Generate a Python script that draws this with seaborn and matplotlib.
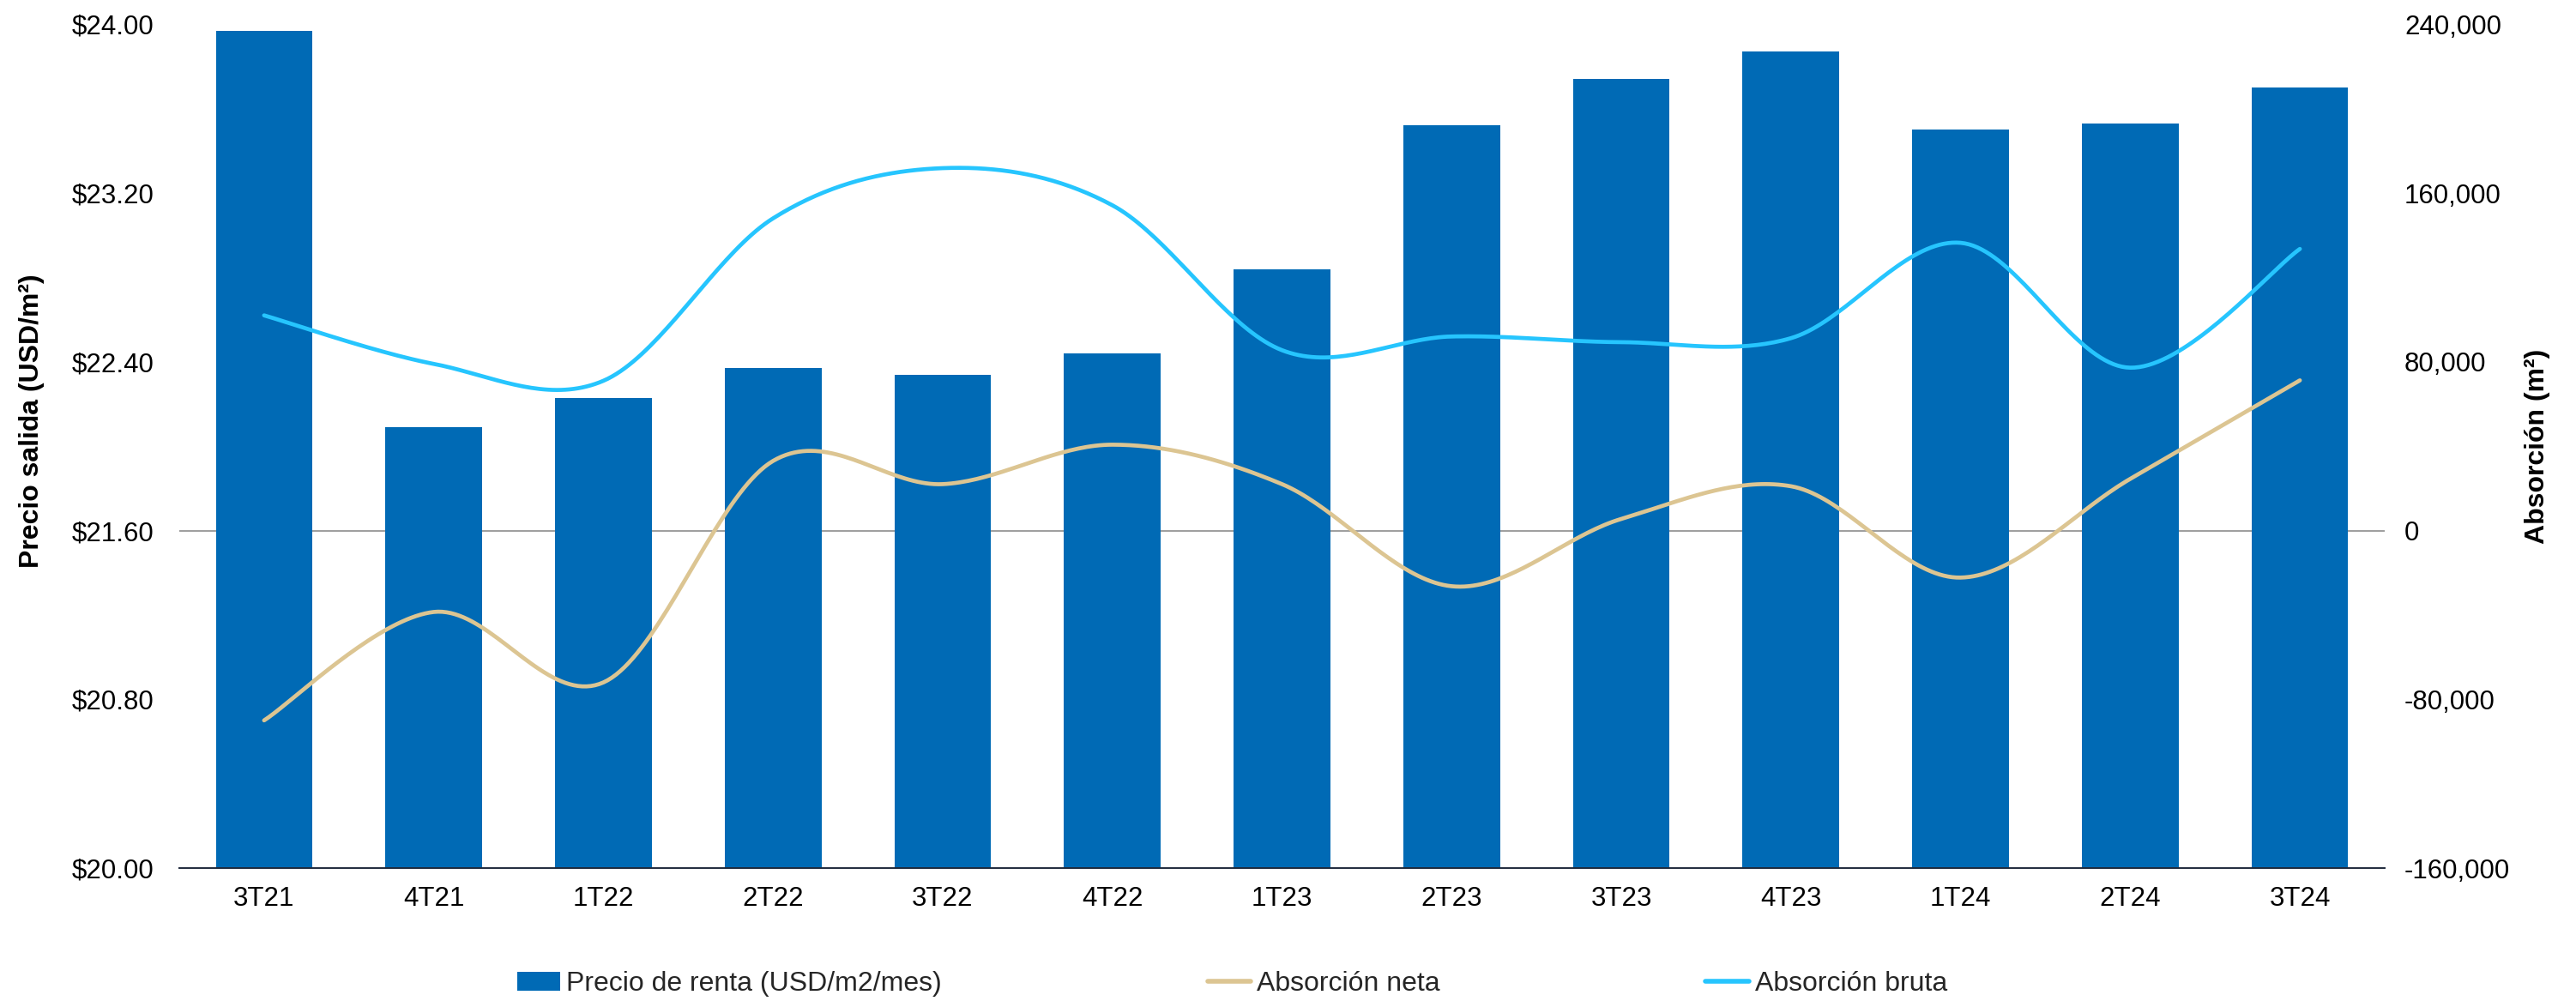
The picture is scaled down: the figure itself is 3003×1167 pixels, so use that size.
import numpy as np
import pandas as pd
import matplotlib
matplotlib.use("Agg")
import matplotlib.pyplot as plt
from matplotlib.patches import Patch
from matplotlib.lines import Line2D
from matplotlib.ticker import FuncFormatter, FixedLocator
import seaborn as sns

# ---------------- data ----------------
trimestres = ['3T21', '4T21', '1T22', '2T22', '3T22', '4T22', '1T23',
              '2T23', '3T23', '4T23', '1T24', '2T24', '3T24']
precio_renta = [23.97, 22.09, 22.23, 22.37, 22.34, 22.44, 22.84,
                23.52, 23.74, 23.87, 23.50, 23.53, 23.70]
absorcion_neta = [-90000, -38600, -72000, 33000, 22000, 40700, 22000,
                  -26400, 5500, 21000, -22300, 24500, 71200]
absorcion_bruta = [102000, 79000, 71000, 148000, 171800, 154200, 85500,
                   92000, 89300, 91200, 136400, 77200, 133500]

left_ticks = [20.0, 20.8, 21.6, 22.4, 23.2, 24.0]
right_ticks = [-160000, -80000, 0, 80000, 160000, 240000]

label_bar = 'Precio de renta (USD/m2/mes)'
label_neta = 'Absorción neta'
label_bruta = 'Absorción bruta'

# ---------------- style ----------------
BAR_C = '#006AB5'
NETA_C = '#DCC592'
BRUTA_C = '#26C5FE'
TXT = '#000000'

sns.set_theme(style='white')
plt.rcParams['font.family'] = ['Liberation Sans', 'DejaVu Sans']

W, H = 3003, 1167
fig = plt.figure(figsize=(W / 100, H / 100), dpi=100)
x0, x1, ytop, ybot = 209, 2780, 28.3, 1012
ax = fig.add_axes([x0 / W, 1 - ybot / H, (x1 - x0) / W, (ybot - ytop) / H])

df = pd.DataFrame({'trimestre': trimestres, 'precio': precio_renta})
sns.barplot(data=df, x='trimestre', y='precio', color=BAR_C, saturation=1,
            width=0.57, ax=ax, zorder=2, linewidth=0)
ax.set_ylim(20, 24)
ax.set_xlim(-0.5, len(trimestres) - 0.5)
ax.axhline(21.6, color='#A0A0A0', lw=1.5, zorder=0)

ax.yaxis.set_major_locator(FixedLocator(left_ticks))
ax.yaxis.set_major_formatter(FuncFormatter(lambda v, p: f'${v:,.2f}'))
ax.set_xlabel('')
ax.set_ylabel('')
ax.tick_params(axis='y', length=0, pad=21, labelsize=22.5, labelcolor=TXT)
ax.tick_params(axis='x', length=0, pad=15, labelsize=22.5, labelcolor=TXT)
for s in ['top', 'left', 'right']:
    ax.spines[s].set_visible(False)
ax.spines['bottom'].set_color('#1F2A3C')
ax.spines['bottom'].set_linewidth(1.4)
ax.grid(False)

ax2 = ax.twinx()
ax2.set_ylim(-160000, 240000)
ax2.yaxis.set_major_locator(FixedLocator(right_ticks))
ax2.yaxis.set_major_formatter(FuncFormatter(lambda v, p: f'{v:,.0f}'))
ax2.tick_params(axis='y', length=0, pad=16.5, labelsize=22.5, labelcolor=TXT)
for s in ax2.spines.values():
    s.set_visible(False)
ax2.grid(False)


def smooth(xv, yv, n=40):
    """Excel-like smoothed line (Catmull-Rom Bezier) through the points."""
    xv = np.asarray(xv, float)
    yv = np.asarray(yv, float)
    P = np.column_stack([xv, yv])
    out = []
    m = len(P)
    for i in range(m - 1):
        p0 = P[i - 1] if i > 0 else P[i]
        p1 = P[i]
        p2 = P[i + 1]
        p3 = P[i + 2] if i + 2 < m else P[i + 1]
        c1 = p1 + (p2 - p0) / 6
        c2 = p2 - (p3 - p1) / 6
        t = np.linspace(0, 1, n, endpoint=(i == m - 2))[:, None]
        seg = ((1 - t) ** 3) * p1 + 3 * ((1 - t) ** 2) * t * c1 + \
              3 * (1 - t) * t ** 2 * c2 + t ** 3 * p2
        out.append(seg)
    out = np.vstack(out)
    return out[:, 0], out[:, 1]


xpos = np.arange(len(trimestres))
for vals, col in [(absorcion_neta, NETA_C), (absorcion_bruta, BRUTA_C)]:
    sx, sy = smooth(xpos, vals)
    sns.lineplot(x=sx, y=sy, ax=ax2, color=col, lw=3.4, sort=False,
                 estimator=None, zorder=3)
ax2.set_xlim(-0.5, len(trimestres) - 0.5)
ax2.set_ylabel('')

fig.text(37 / W, 1 - 491 / H, 'Precio salida (USD/m²)', rotation=90,
         ha='center', va='center', fontsize=23, fontweight='bold', color=TXT)
fig.text(2958 / W, 1 - 520 / H, 'Absorción (m²)', rotation=90,
         ha='center', va='center', fontsize=23, fontweight='bold', color=TXT)

handles = [Patch(facecolor=BAR_C, edgecolor='none'),
           Line2D([], [], color=NETA_C, lw=4),
           Line2D([], [], color=BRUTA_C, lw=4)]
fig.legend(handles, [label_bar, label_neta, label_bruta], loc='center left',
           bbox_to_anchor=(603 / W, 1 - 1147 / H), ncol=3, frameon=False,
           fontsize=23, handlelength=1.57, handleheight=0.68,
           handletextpad=0.22, columnspacing=9.7, borderaxespad=0,
           borderpad=0)

fig.savefig('out.png', dpi=100)
